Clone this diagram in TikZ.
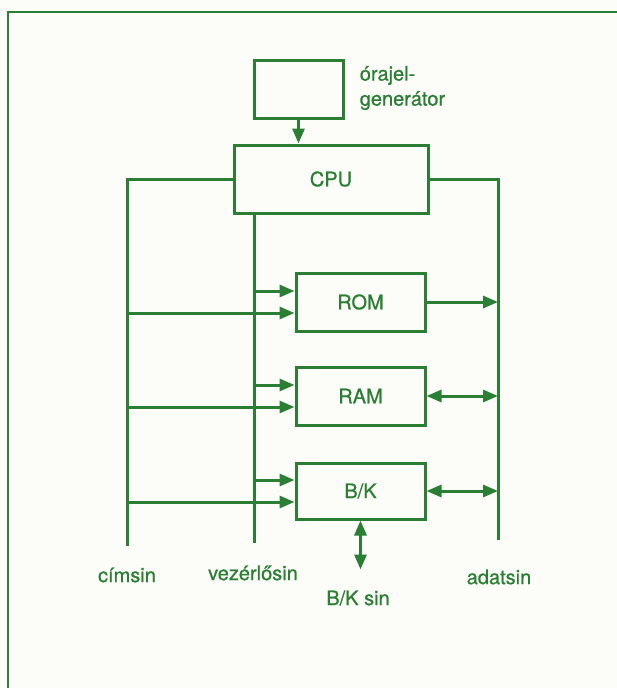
\documentclass[tikz,border=0pt]{standalone}
\usepackage{fontspec}
\setmainfont{TeX Gyre Heros}
\newfontfamily\labelfont[FakeBold=0.8]{TeX Gyre Heros}
\usetikzlibrary{arrows.meta,positioning}
\definecolor{busgreen}{RGB}{43,127,52}
\definecolor{paper}{RGB}{252,252,248}

\begin{document}
\begin{tikzpicture}[x=1pt,y=-1pt,>={Triangle[length=15pt,width=12pt]},
  line width=3pt,busgreen,
  box/.style={draw,rectangle,inner sep=0pt,minimum width=129pt,minimum height=58pt},
  lbl/.style={font=\labelfont\fontsize{20}{25}\selectfont,text=busgreen}]
  \fill[paper] (0,0) rectangle (617,688);
  \useasboundingbox (0,0) rectangle (617,688);
  \draw[line width=1.5pt] (8,688) -- (8,12) -- (617,12);

  % boxes
  \node[box,minimum width=89pt] (clk) at (298.5,89) {};
  \node[lbl,align=left,anchor=west] (clklbl) at (355,88) {órajel-\\generátor};
  \node[box,lbl,minimum width=194pt,minimum height=68pt] (cpu) at (331,179) {CPU};
  \node[box,lbl] (rom) at (360.5,302) {ROM};
  \node[box,lbl] (ram) at (360.5,396) {RAM};
  \node[box,lbl,minimum height=56pt] (bk) at (360.5,491) {B/K};

  % bus ends
  \coordinate (cimbot) at (127,546);
  \coordinate (vezbot) at (254,543);
  \coordinate (adatbot) at (498,540);
  \coordinate (bkend) at ([yshift=-49pt]bk.south);

  \draw[->] (clk.south) -- (clk.south |- cpu.north);
  \draw (cpu.west) -| (cimbot);
  \draw (cpu.east) -| (adatbot);
  \draw (vezbot |- cpu.south) -- (vezbot);

  \foreach \m in {rom,ram,bk}{
    \coordinate (\m c) at ([yshift=11pt]\m.west);
    \coordinate (\m a) at ([yshift=-11pt]\m.west);
    \draw[->] (vezbot |- \m c) -- (\m c);
    \draw[->] (cimbot |- \m a) -- (\m a);
  }
  \draw[->] (rom.east) -- (rom.east -| adatbot);
  \draw[<->] (ram.east) -- (ram.east -| adatbot);
  \draw[<->] (bk.east) -- (bk.east -| adatbot);
  \draw[<->] (bk.south) -- (bkend);

  \node[lbl] (cimlbl) at (127,575) {címsin};
  \node[lbl] (vezlbl) at (253,573) {vezérlősin};
  \node[lbl] (bklbl) at (358,598) {B/K sin};
  \node[lbl] (adatlbl) at (499,577) {adatsin};
\end{tikzpicture}
\end{document}
